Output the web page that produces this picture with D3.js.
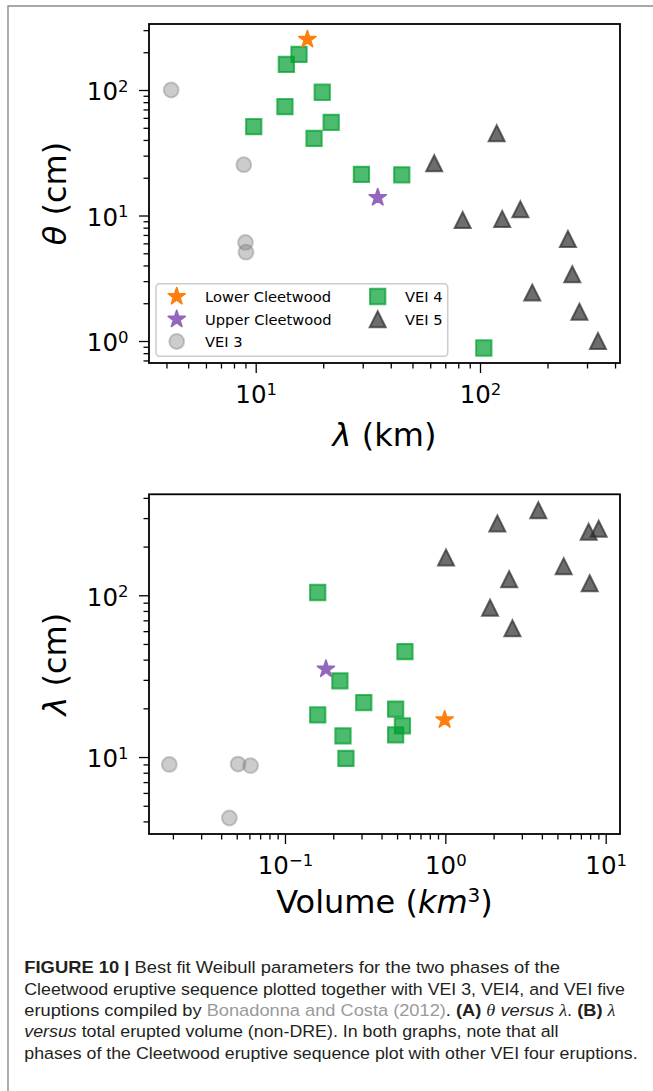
<!DOCTYPE html>
<html>
<head>
<meta charset="utf-8">
<script src="https://cdn.jsdelivr.net/npm/d3@7"></script>
<style>
  html, body { margin: 0; padding: 0; background: #fff; }
  svg { display: block; }
</style>
</head>
<body>
<svg id="fig" width="653" height="1091"></svg>
<script>
// Best-fit Weibull parameters: lambda (km), theta (cm), total erupted volume (km^3)
const lowerLambda = [17.0];
const lowerTheta = [253];
const lowerVolume = [0.99];

const upperLambda = [35.0];
const upperTheta = [13.9];
const upperVolume = [0.18];

const vei3Lambda = [4.2, 8.85, 9.0, 9.05];
const vei3Theta = [100, 25.4, 6.1, 5.1];
const vei3Volume = [0.045, 0.061, 0.019, 0.051];

const vei4Lambda = [13.7, 15.6, 19.8, 13.5, 9.8, 21.7, 18.2, 29.6, 44.8, 104];
const vei4Theta = [160, 192, 96, 73.6, 51, 55.3, 41.2, 21.3, 21.1, 0.88];
const vei4Volume = [0.49, 0.54, 0.49, 0.23, 0.24, 0.31, 0.16, 0.22, 0.56, 0.16];

const vei5Lambda = [118.7, 62.5, 83.7, 125.6, 151.4, 246.6, 257.9, 171, 277.5, 335.7];
const vei5Theta = [45.2, 26.1, 9.2, 9.4, 11.2, 6.5, 3.4, 2.43, 1.71, 1.0];
const vei5Volume = [7.95, 2.62, 1.90, 2.50, 5.47, 7.83, 9.04, 1.01, 2.11, 3.80];

const legendLabels = ["Lower Cleetwood", "Upper Cleetwood", "VEI 3", "VEI 4", "VEI 5"];

// Axis limits and major (decade) ticks
const lambdaLimits = [3.344, 420.9];
const thetaLimits = [0.668, 335.7];
const volumeLimits = [0.01419, 12.28];
const lambdaMajorTicks = [10, 100];
const thetaMajorTicks = [1, 10, 100];
const volumeMajorTicks = [0.1, 1, 10];

const svg = d3.select("#fig");
const FONT = "DejaVu Sans, Verdana, sans-serif";

// Page frame
svg.append("path")
  .attr("d", "M8,1091 L8,6 L653,6")
  .attr("fill", "none")
  .attr("stroke", "#8c8c8c")
  .attr("stroke-width", 1.4);

// Marker styles
const styles = {
  lower: { shape: "star", color: "#ff7f0e", opacity: 1 },
  upper: { shape: "star", color: "#9467bd", opacity: 1 },
  vei3:  { shape: "circle", color: "#808080", opacity: 0.4 },
  vei4:  { shape: "square", color: "rgb(0,158,47)", opacity: 0.7 },
  vei5:  { shape: "triangle", color: "#2f2f2f", opacity: 0.7 }
};

function markerPath(shape) {
  if (shape === "circle") return d3.symbol(d3.symbolCircle, Math.PI * 7.4 * 7.4)();
  if (shape === "square") return d3.symbol(d3.symbolSquare, 15.3 * 15.3)();
  if (shape === "star") return d3.symbol(d3.symbolStar, 9.0 * 9.0 / 0.8908130915)();
  const h = 8.0; // matplotlib-style '^' marker
  return `M0,${-h}L${h},${h}L${-h},${h}Z`;
}

function styleMarker(sel, st) {
  sel.attr("d", markerPath(st.shape))
    .attr("fill", st.color)
    .attr("fill-opacity", st.opacity)
    .attr("stroke", st.color)
    .attr("stroke-opacity", st.opacity)
    .attr("stroke-width", st.shape === "star" ? 1.6 : 2)
    .attr("stroke-linejoin", st.shape === "star" ? "round" : "miter");
}

function zip(xs, ys) { return xs.map((v, i) => ({ x: v, y: ys[i] })); }

function decadeLabels(sel) {
  sel.each(function (d) {
    const t = d3.select(this);
    const e = Math.round(Math.log10(d));
    t.text(null);
    t.append("tspan").text("10");
    t.append("tspan").attr("font-size", 16.5).attr("dy", -8.5)
      .text(e < 0 ? "\u2212" + (-e) : String(e));
  });
}

function drawPanel(box, xScale, yScale, xMajor, yMajor, seriesList) {
  const g = svg.append("g");

  // minor ticks
  const xMinor = xScale.ticks().filter(v => !xMajor.some(m => Math.abs(m - v) / m < 1e-9));
  const yMinor = yScale.ticks().filter(v => !yMajor.some(m => Math.abs(m - v) / m < 1e-9));

  const xAxisMinor = g.append("g").attr("transform", `translate(0,${box.bottom})`)
    .call(d3.axisBottom(xScale).tickValues(xMinor).tickSize(5.5).tickFormat(""));
  const yAxisMinor = g.append("g").attr("transform", `translate(${box.left},0)`)
    .call(d3.axisLeft(yScale).tickValues(yMinor).tickSize(5.5).tickFormat(""));

  const xAxis = g.append("g").attr("transform", `translate(0,${box.bottom})`)
    .call(d3.axisBottom(xScale).tickValues(xMajor).tickSize(10).tickPadding(0));
  const yAxis = g.append("g").attr("transform", `translate(${box.left},0)`)
    .call(d3.axisLeft(yScale).tickValues(yMajor).tickSize(10).tickPadding(0));

  [xAxisMinor, yAxisMinor, xAxis, yAxis].forEach(a => {
    a.select(".domain").remove();
    a.selectAll(".tick line").attr("stroke", "#000").attr("stroke-width", 1.3);
    a.attr("font-family", FONT).attr("font-size", 24.5);
  });

  xAxis.selectAll(".tick text")
    .attr("y", 40).attr("dy", null).attr("fill", "#000")
    .attr("text-anchor", "middle")
    .call(decadeLabels);
  yAxis.selectAll(".tick text")
    .attr("x", -20.5).attr("y", 9.8).attr("dy", null).attr("fill", "#000")
    .attr("text-anchor", "end")
    .call(decadeLabels);

  // markers
  const clip = "clip" + Math.round(box.top);
  svg.append("clipPath").attr("id", clip).append("rect")
    .attr("x", box.left).attr("y", box.top)
    .attr("width", box.right - box.left).attr("height", box.bottom - box.top);
  const pts = g.append("g").attr("clip-path", `url(#${clip})`);
  seriesList.forEach(s => {
    pts.append("g").selectAll("path").data(s.data).join("path")
      .attr("transform", d => `translate(${xScale(d.x)},${yScale(d.y)})`)
      .call(styleMarker, s.style);
  });

  // spines
  g.append("rect")
    .attr("x", box.left).attr("y", box.top)
    .attr("width", box.right - box.left).attr("height", box.bottom - box.top)
    .attr("fill", "none").attr("stroke", "#000").attr("stroke-width", 1.8);
  return g;
}

// ---------- Panel A: theta vs lambda ----------
const boxA = { left: 149, right: 620, top: 24, bottom: 363 };
const xA = d3.scaleLog().domain(lambdaLimits).range([boxA.left, boxA.right]);
const yA = d3.scaleLog().domain(thetaLimits).range([boxA.bottom, boxA.top]);

drawPanel(boxA, xA, yA, lambdaMajorTicks, thetaMajorTicks, [
  { data: zip(vei3Lambda, vei3Theta), style: styles.vei3 },
  { data: zip(vei4Lambda, vei4Theta), style: styles.vei4 },
  { data: zip(vei5Lambda, vei5Theta), style: styles.vei5 },
  { data: zip(lowerLambda, lowerTheta), style: styles.lower },
  { data: zip(upperLambda, upperTheta), style: styles.upper }
]);

// legend
const legend = svg.append("g");
legend.append("rect")
  .attr("x", 156).attr("y", 283.7).attr("width", 291.7).attr("height", 72.6)
  .attr("rx", 3.5).attr("fill", "#fff").attr("fill-opacity", 0.8)
  .attr("stroke", "#cccccc").attr("stroke-width", 1.5);
const legendStyles = [styles.lower, styles.upper, styles.vei3, styles.vei4, styles.vei5];
const legendCol = [176.7, 377.7], legendTextCol = [205, 405];
const legendRow = [296.5, 319.2, 341.5];
legendLabels.forEach((lab, i) => {
  const col = i < 3 ? 0 : 1, row = i < 3 ? i : i - 3;
  legend.append("path")
    .attr("transform", `translate(${legendCol[col]},${legendRow[row]})`)
    .call(styleMarker, legendStyles[i]);
  legend.append("text")
    .attr("x", legendTextCol[col]).attr("y", legendRow[row] + 5.4)
    .attr("font-family", FONT).attr("font-size", 14.7).attr("fill", "#000")
    .text(lab);
});

// axis titles
const titleA_x = svg.append("text")
  .attr("x", (boxA.left + boxA.right) / 2).attr("y", 446)
  .attr("text-anchor", "middle").attr("font-family", FONT).attr("font-size", 32)
  .style("white-space", "pre");
titleA_x.append("tspan").attr("font-style", "italic").text("\u03bb");
titleA_x.append("tspan").text(" (km)");

const titleA_y = svg.append("text")
  .attr("transform", `translate(66,${(boxA.top + boxA.bottom) / 2}) rotate(-90)`)
  .attr("text-anchor", "middle").attr("font-family", FONT).attr("font-size", 32)
  .style("white-space", "pre");
titleA_y.append("tspan").attr("font-style", "italic").text("\u03b8");
titleA_y.append("tspan").text(" (cm)");

// ---------- Panel B: lambda vs volume ----------
const boxB = { left: 149, right: 620, top: 494.3, bottom: 834 };
const xB = d3.scaleLog().domain(volumeLimits).range([boxB.left, boxB.right]);
const yB = d3.scaleLog().domain(lambdaLimits).range([boxB.bottom, boxB.top]);

drawPanel(boxB, xB, yB, volumeMajorTicks, lambdaMajorTicks, [
  { data: zip(vei3Volume, vei3Lambda), style: styles.vei3 },
  { data: zip(vei4Volume, vei4Lambda), style: styles.vei4 },
  { data: zip(vei5Volume, vei5Lambda), style: styles.vei5 },
  { data: zip(lowerVolume, lowerLambda), style: styles.lower },
  { data: zip(upperVolume, upperLambda), style: styles.upper }
]);

const titleB_x = svg.append("text")
  .attr("x", (boxB.left + boxB.right) / 2).attr("y", 913)
  .attr("text-anchor", "middle").attr("font-family", FONT).attr("font-size", 32)
  .style("white-space", "pre");
titleB_x.append("tspan").text("Volume (");
titleB_x.append("tspan").attr("font-style", "italic").text("km");
titleB_x.append("tspan").attr("font-size", 20).attr("dy", -11).text("3");
titleB_x.append("tspan").attr("dy", 11).text(")");

const titleB_y = svg.append("text")
  .attr("transform", `translate(66,${(boxB.top + boxB.bottom) / 2}) rotate(-90)`)
  .attr("text-anchor", "middle").attr("font-family", FONT).attr("font-size", 32)
  .style("white-space", "pre");
titleB_y.append("tspan").attr("font-style", "italic").text("\u03bb");
titleB_y.append("tspan").text(" (cm)");

// ---------- Caption ----------
const captionLines = [
  [["FIGURE 10 | ", "b"], ["Best fit Weibull parameters for the two phases of the", ""]],
  [["Cleetwood eruptive sequence plotted together with VEI 3, VEI4, and VEI five", ""]],
  [["eruptions compiled by ", ""], ["Bonadonna and Costa (2012)", "g"], [". ", ""], ["(A)", "b"], [" ", ""],
   ["\u03b8", "m"], [" ", ""], ["versus", "i"], [" ", ""], ["\u03bb", "m"], [". ", ""], ["(B)", "b"], [" ", ""], ["\u03bb", "m"]],
  [["versus", "i"], [" total erupted volume (non-DRE). In both graphs, note that all", ""]],
  [["phases of the Cleetwood eruptive sequence plot with other VEI four eruptions.", ""]]
];
const captionLeft = 24.3;
const captionRight = [560.3, 625.3, 616.3, 558.7, 638];
const captionBaseline = [973.3, 994.6, 1015.9, 1037.2, 1058.5];

captionLines.forEach((segs, i) => {
  const t = svg.append("text")
    .attr("x", 0).attr("y", 0)
    .attr("font-family", "Liberation Sans, Arial, sans-serif")
    .attr("font-size", 16.5).attr("fill", "#231f20")
    .style("white-space", "pre");
  segs.forEach(([str, kind]) => {
    const s = t.append("tspan").text(str);
    if (kind === "b") s.attr("font-weight", "bold");
    if (kind === "i") s.attr("font-style", "italic");
    if (kind === "g") s.attr("fill", "#9a9a9a");
    if (kind === "m") s.attr("font-style", "italic").attr("font-family", "Liberation Serif, serif");
  });
  const w = t.node().getComputedTextLength();
  const k = (captionRight[i] - captionLeft) / w;
  t.attr("transform", `translate(${captionLeft},${captionBaseline[i]}) scale(${k},1)`);
});
</script>
</body>
</html>
